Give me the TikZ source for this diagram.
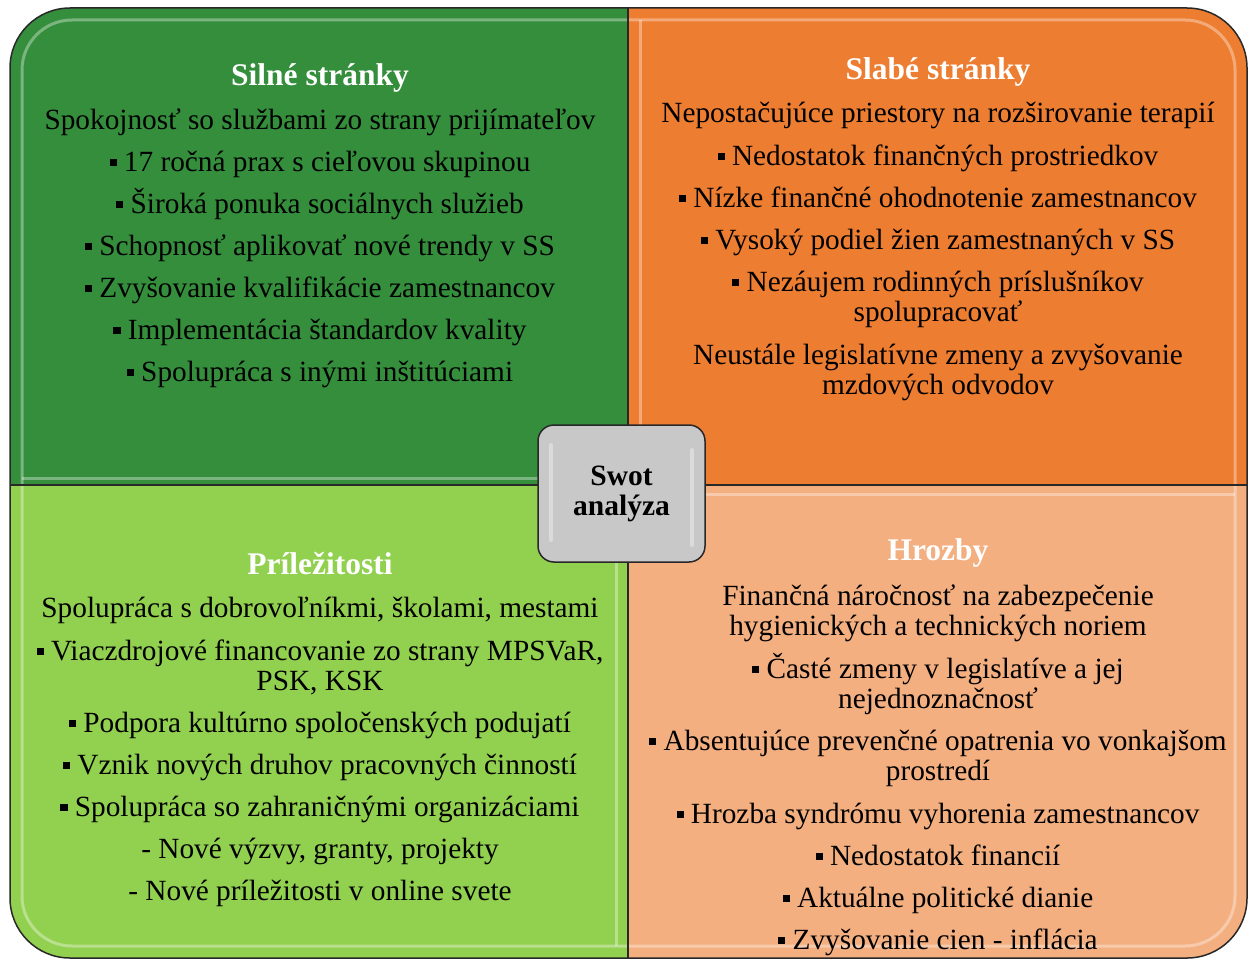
\documentclass[tikz,border=0pt]{standalone}
\usepackage{fontspec}
\setmainfont{Liberation Serif}
\usepackage{tikz}
\usetikzlibrary{positioning}

\definecolor{swgreen}{RGB}{52,142,60}
\definecolor{sworange}{RGB}{237,125,49}
\definecolor{swlgreen}{RGB}{146,208,80}
\definecolor{swlorange}{RGB}{243,175,128}
\definecolor{swgray}{RGB}{200,200,200}
\definecolor{swedge}{RGB}{40,40,40}

\newcommand{\sqb}{\raisebox{0.2em}{\rule{0.24em}{0.24em}}\ }

\begin{document}
\begin{tikzpicture}
    [
        x=1pt, y=-1pt, node distance=42pt, on grid,
        head_text/.style={font=\bfseries\fontsize{31.5}{33}\selectfont, text=white, align=center, inner sep=0pt, text height=29pt, text depth=7pt},
        body_text/.style={font=\fontsize{29.3}{30}\selectfont, text=black, align=center, inner sep=0pt, text height=26pt, text depth=7pt},
        body_two/.style={body_text, text height=56pt},
        swot_text/.style={font=\bfseries\fontsize{29.5}{30}\selectfont, text=black, align=center, inner sep=0pt},
        gloss/.style={white, opacity=0.35, line width=3pt},
    ]
        \useasboundingbox (0,0) rectangle (1249,960);
        % quadrants
        \begin{scope}
            \clip[rounded corners=60pt] (10,8) rectangle (1247,958);
            \fill[swgreen] (10,8) rectangle (628,485);
            \fill[sworange] (628,8) rectangle (1247,485);
            \fill[swlgreen] (10,485) rectangle (628,958);
            \fill[swlorange] (628,485) rectangle (1247,958);
            \draw[gloss, rounded corners=50pt] (22,20) rectangle (1235,946);
            \draw[gloss] (22,478) -- (616,478);
            \draw[gloss] (640,20) -- (640,476);
            \draw[gloss] (616,494) -- (616,946);
            \draw[gloss] (640,494) -- (1235,494);
        \end{scope}
        \draw[swedge, line width=1.5pt, rounded corners=60pt] (10,8) rectangle (1247,958);
        \draw[swedge, line width=1.5pt] (628,8) -- (628,958);
        \draw[swedge, line width=1.5pt] (10,485) -- (1247,485);

        % Silne stranky
        \node[head_text] (s_head) at (320,75) {Silné stránky};
        \node[body_text] (s1) [below=45pt of s_head] {Spokojnosť so službami zo strany prijímateľov};
        \node[body_text] (s2) [below=of s1] {\sqb 17 ročná prax s cieľovou skupinou};
        \node[body_text] (s3) [below=of s2] {\sqb Široká ponuka sociálnych služieb};
        \node[body_text] (s4) [below=of s3] {\sqb Schopnosť aplikovať nové trendy v SS};
        \node[body_text] (s5) [below=of s4] {\sqb Zvyšovanie kvalifikácie zamestnancov};
        \node[body_text] (s6) [below=of s5] {\sqb Implementácia štandardov kvality};
        \node[body_text] (s7) [below=of s6] {\sqb Spolupráca s inými inštitúciami};

        % Slabe stranky
        \node[head_text] (w_head) at (938,69) {Slabé stránky};
        \node[body_text] (w1) [below=44pt of w_head] {Nepostačujúce priestory na rozširovanie terapií};
        \node[body_text] (w2) [below=43pt of w1] {\sqb Nedostatok finančných prostriedkov};
        \node[body_text] (w3) [below=of w2] {\sqb Nízke finančné ohodnotenie zamestnancov};
        \node[body_text] (w4) [below=of w3] {\sqb Vysoký podiel žien zamestnaných v SS};
        \node[body_two] (w5) [below=57pt of w4] {\sqb Nezáujem rodinných príslušníkov\\spolupracovať};
        \node[body_two] (w6) [below=73pt of w5] {Neustále legislatívne zmeny a zvyšovanie\\mzdových odvodov};

        % Prilezitosti
        \node[head_text] (o_head) at (320,563) {Príležitosti};
        \node[body_text] (o1) [below=45pt of o_head] {Spolupráca s dobrovoľníkmi, školami, mestami};
        \node[body_two] (o2) [below=58pt of o1] {\sqb Viaczdrojové financovanie zo strany MPSVaR,\\PSK, KSK};
        \node[body_text] (o3) [below=57pt of o2] {\sqb Podpora kultúrno spoločenských podujatí};
        \node[body_text] (o4) [below=of o3] {\sqb Vznik nových druhov pracovných činností};
        \node[body_text] (o5) [below=of o4] {\sqb Spolupráca so zahraničnými organizáciami};
        \node[body_text] (o6) [below=of o5] {- Nové výzvy, granty, projekty};
        \node[body_text] (o7) [below=of o6] {- Nové príležitosti v online svete};

        % Hrozby
        \node[head_text] (t_head) at (938,549) {Hrozby};
        \node[body_two] (t1) [below=62pt of t_head] {Finančná náročnosť na zabezpečenie\\hygienických a technických noriem};
        \node[body_two] (t2) [below=73pt of t1] {\sqb Časté zmeny v legislatíve a jej\\nejednoznačnosť};
        \node[body_two] (t3) [below=72pt of t2] {\sqb Absentujúce prevenčné opatrenia vo vonkajšom\\prostredí};
        \node[body_text] (t4) [below=58pt of t3] {\sqb Hrozba syndrómu vyhorenia zamestnancov};
        \node[body_text] (t5) [below=of t4] {\sqb Nedostatok financií};
        \node[body_text] (t6) [below=of t5] {\sqb Aktuálne politické dianie};
        \node[body_text] (t7) [below=of t6] {\sqb Zvyšovanie cien - inflácia};

        % center
        \node[draw=swedge, line width=1.5pt, fill=swgray, rounded corners=16pt, minimum width=167pt, minimum height=137pt] (swot) at (621.5,493.5) {};
        \draw[gloss, line width=4pt, line cap=round] (551,445) -- (551,540);
        \draw[gloss, line width=4pt, line cap=round] (692,450) -- (692,545);
        \node[swot_text] (swot_lbl) at (swot.center) {Swot\\analýza};
    \end{tikzpicture}
\end{document}
